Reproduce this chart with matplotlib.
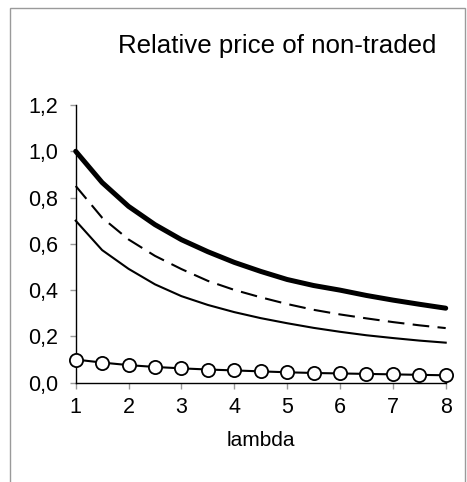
import matplotlib
matplotlib.use("Agg")
import matplotlib.pyplot as plt
from matplotlib.patches import Rectangle

plt.rcParams['font.family'] = ['Liberation Sans', 'DejaVu Sans']

# lambda grid (step 0.5)
lam = [1.0, 1.5, 2.0, 2.5, 3.0, 3.5, 4.0, 4.5, 5.0, 5.5, 6.0, 6.5, 7.0, 7.5, 8.0]

# series
thick = [1.000, 0.865, 0.762, 0.683, 0.618, 0.566, 0.520, 0.481, 0.446, 0.420, 0.400, 0.377, 0.357, 0.339, 0.322]
dashed = [0.850, 0.713, 0.619, 0.548, 0.491, 0.440, 0.401, 0.369, 0.340, 0.315, 0.295, 0.278, 0.262, 0.248, 0.236]
thin = [0.700, 0.573, 0.492, 0.425, 0.374, 0.336, 0.305, 0.279, 0.257, 0.237, 0.220, 0.205, 0.193, 0.182, 0.173]
circles = [0.100, 0.087, 0.076, 0.068, 0.062, 0.057, 0.053, 0.049, 0.045, 0.042, 0.040, 0.038, 0.036, 0.034, 0.032]

x_ticks = [1, 2, 3, 4, 5, 6, 7, 8]
y_ticks = [0.0, 0.2, 0.4, 0.6, 0.8, 1.0, 1.2]
y_labels = ['0,0', '0,2', '0,4', '0,6', '0,8', '1,0', '1,2']

fig = plt.figure(figsize=(4.67, 4.82), dpi=100)
fig.patch.set_facecolor('white')

# gray chart-area border (bottom edge runs off the image)
fig.patches.append(Rectangle((10 / 467, -0.05), 455 / 467, 1.05 - 8 / 482,
                             transform=fig.transFigure, fill=False,
                             edgecolor='#9a9a9a', linewidth=1.0))

ax = fig.add_axes([75.7 / 467, 99.3 / 482, 370 / 467, 277.7 / 482])

ax.plot(lam, thick, color='black', linewidth=3.6, solid_capstyle='round', clip_on=False)
ax.plot(lam, dashed, color='black', linewidth=1.5, dashes=(8, 4), clip_on=False)
ax.plot(lam, thin, color='black', linewidth=1.5, clip_on=False)
ax.plot(lam, circles, color='black', linewidth=1.5, marker='o', markersize=9.5,
        markerfacecolor='white', markeredgecolor='black', markeredgewidth=1.3,
        clip_on=False, zorder=5)

ax.set_xlim(1, 8)
ax.set_ylim(0, 1.2)
ax.set_xticks(x_ticks)
ax.set_xticklabels([str(v) for v in x_ticks])
ax.set_yticks(y_ticks)
ax.set_yticklabels(y_labels)

for side in ['top', 'right']:
    ax.spines[side].set_visible(False)
for side in ['left', 'bottom']:
    ax.spines[side].set_linewidth(1.0)
    ax.spines[side].set_color('black')

ax.tick_params(axis='both', direction='out', length=4.5, width=1.0,
               color='#999999', labelsize=15.5)
ax.tick_params(axis='y', pad=8)
ax.tick_params(axis='x', pad=6)

ax.set_xlabel('lambda', fontsize=15, labelpad=9)

fig.text(277.5 / 467, 1 - 46 / 482, 'Relative price of non-traded',
         ha='center', va='center', fontsize=18.6)

fig.savefig('out.png', dpi=100)
